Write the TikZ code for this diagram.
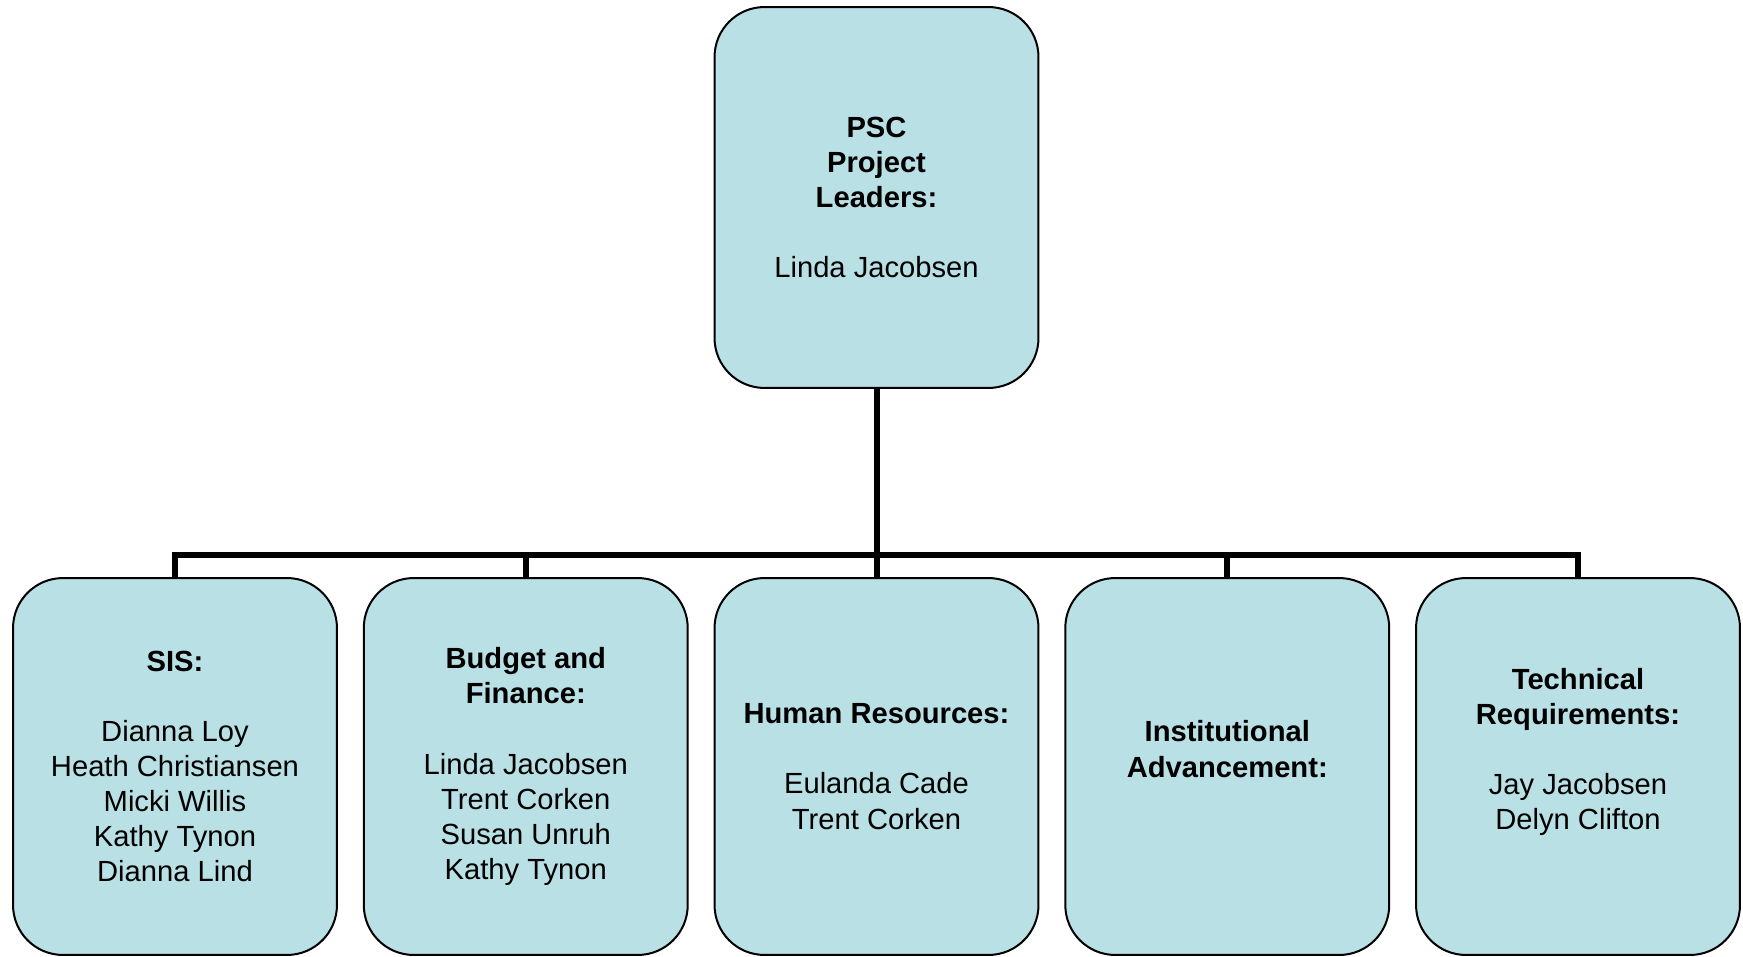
\documentclass[tikz,border=0pt]{standalone}
\usepackage{fontspec}
\setmainfont{Liberation Sans}
\definecolor{boxblue}{RGB}{185,224,228}
\tikzset{
    orgbox/.style={draw=black,line width=0.04cm,fill=boxblue,rounded corners=1cm,
        minimum width=6.48cm,inner sep=0pt,outer sep=0pt,align=center,
        font=\fontsize{16.6}{20}\selectfont},
    conn/.style={line width=0.12cm}
}
\begin{document}
\begin{tikzpicture}[x=0.02cm,y=-0.02cm]
    \useasboundingbox (0,0) rectangle (1743,956);
    % leaders
    \node[orgbox,minimum height=7.62cm] (lead) at (876.5,197.5) {\textbf{PSC}\\\textbf{Project}\\\textbf{Leaders:}\\[20pt]Linda Jacobsen};
    % teams
    \node[orgbox,minimum height=7.54cm] (sis) at (175,766.5) {\textbf{SIS:}\\[20pt]Dianna Loy\\Heath Christiansen\\Micki Willis\\Kathy Tynon\\Dianna Lind};
    \node[orgbox,minimum height=7.54cm] (budget) at (525.75,766.5) {\textbf{Budget and}\\\textbf{Finance:}\\[20pt]Linda Jacobsen\\Trent Corken\\Susan Unruh\\Kathy Tynon};
    \node[orgbox,minimum height=7.54cm] (hr) at (876.5,766.5) {\textbf{Human Resources:}\\[20pt]Eulanda Cade\\Trent Corken};
    \node[orgbox,minimum height=7.54cm] (inst) at (1227.25,766.5) {\textbf{Institutional}\\\textbf{Advancement:}\\\mbox{}};
    \node[orgbox,minimum height=7.54cm] (tech) at (1578,766.5) {\textbf{Technical}\\\textbf{Requirements:}\\[20pt]Jay Jacobsen\\Delyn Clifton\\\mbox{}};
    % connectors
    \coordinate (bus) at (876.5,555);
    \draw[conn] (lead.south) -- (bus);
    \draw[conn] (sis.north) |- (bus);
    \draw[conn] (budget.north) |- (bus);
    \draw[conn] (hr.north) -- (bus);
    \draw[conn] (inst.north) |- (bus);
    \draw[conn] (tech.north) |- (bus);
\end{tikzpicture}
\end{document}
